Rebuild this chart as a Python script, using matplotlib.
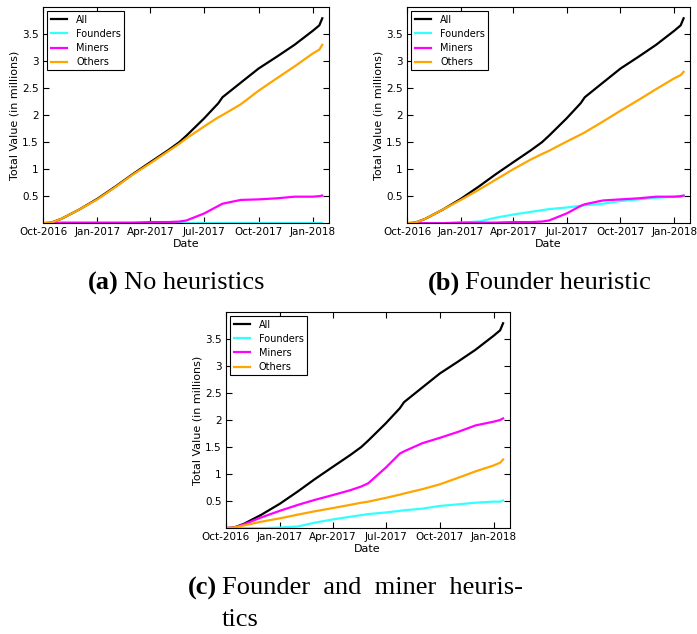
import datetime as dt
import matplotlib
matplotlib.use("Agg")
import matplotlib.pyplot as plt
import matplotlib.dates as mdates

# shared dates (approx. sampling)
dates = ["2016-10-01", "2016-10-15", "2016-11-01", "2016-12-01", "2017-01-01",
         "2017-02-01", "2017-03-01", "2017-04-01", "2017-05-01", "2017-05-20",
         "2017-06-01", "2017-07-01", "2017-07-25", "2017-08-01", "2017-09-01",
         "2017-10-01", "2017-11-01", "2017-12-01", "2018-01-01", "2018-01-12",
         "2018-01-17"]

all_vals = [0.0, 0.01, 0.08, 0.25, 0.45, 0.68, 0.90, 1.13, 1.35, 1.50, 1.62,
            1.94, 2.22, 2.33, 2.60, 2.86, 3.08, 3.30, 3.56, 3.66, 3.79]

# (a) No heuristics
a_founders = [0.0] * 21
a_miners = [0.0, 0.0, 0.01, 0.01, 0.01, 0.01, 0.01, 0.02, 0.02, 0.03, 0.05,
            0.18, 0.32, 0.36, 0.43, 0.44, 0.46, 0.49, 0.49, 0.50, 0.51]
a_others = [0.0, 0.01, 0.08, 0.25, 0.44, 0.67, 0.89, 1.11, 1.33, 1.47, 1.57,
            1.79, 1.96, 2.00, 2.20, 2.45, 2.68, 2.90, 3.14, 3.21, 3.30]

# (b) Founder heuristic
b_founders = [0.0, 0.0, 0.0, 0.0, 0.01, 0.03, 0.10, 0.16, 0.21, 0.24, 0.26,
              0.29, 0.32, 0.33, 0.36, 0.41, 0.44, 0.47, 0.49, 0.49, 0.51]
b_miners = [0.0, 0.0, 0.0, 0.0, 0.01, 0.01, 0.01, 0.02, 0.02, 0.03, 0.05,
            0.18, 0.32, 0.35, 0.42, 0.44, 0.46, 0.49, 0.49, 0.50, 0.51]
b_others = [0.0, 0.01, 0.08, 0.25, 0.43, 0.62, 0.80, 1.00, 1.18, 1.28, 1.34,
            1.51, 1.64, 1.68, 1.88, 2.08, 2.28, 2.48, 2.68, 2.74, 2.80]

# (c) Founder and miner heuristics
c_founders = b_founders
c_miners = [0.0, 0.01, 0.07, 0.20, 0.32, 0.43, 0.52, 0.61, 0.70, 0.77, 0.83,
            1.12, 1.38, 1.42, 1.57, 1.67, 1.78, 1.90, 1.97, 2.00, 2.03]
c_others = [0.0, 0.01, 0.05, 0.12, 0.18, 0.25, 0.31, 0.37, 0.43, 0.47, 0.49,
            0.56, 0.62, 0.64, 0.72, 0.81, 0.93, 1.05, 1.16, 1.21, 1.27]

yticks = [0.5, 1, 1.5, 2, 2.5, 3, 3.5]
ytick_labels = ["0.5", "1", "1.5", "2", "2.5", "3", "3.5"]

x = [dt.datetime.strptime(d, "%Y-%m-%d") for d in dates]

plt.rcParams["font.family"] = ["DejaVu Sans"]

fig = plt.figure(figsize=(6.97, 6.34), dpi=100)


def panel(rect, founders, miners, others):
    ax = fig.add_axes(rect)
    ax.plot(x, all_vals, color="black", lw=1.6, label="All")
    ax.plot(x, founders, color="#33ffff", lw=1.6, label="Founders")
    ax.plot(x, miners, color="#ff00ff", lw=1.6, label="Miners")
    ax.plot(x, others, color="#ffa500", lw=1.6, label="Others")
    ax.set_xlim(dt.datetime(2016, 10, 1), dt.datetime(2018, 1, 28))
    ax.set_ylim(0, 4)
    ax.set_yticks(yticks)
    ax.set_yticklabels(ytick_labels)
    ax.xaxis.set_major_locator(mdates.MonthLocator(bymonth=[1, 4, 7, 10]))
    ax.xaxis.set_major_formatter(mdates.DateFormatter("%b-%Y"))
    ax.tick_params(direction="in", top=True, right=True, labelsize=7.5,
                   length=4, pad=3)
    ax.set_xlabel("Date", fontsize=8, labelpad=1)
    ax.set_ylabel("Total Value (in millions)", fontsize=8, labelpad=2)
    leg = ax.legend(loc="upper left", fontsize=7, fancybox=False,
                    edgecolor="black", framealpha=1, handlelength=1.7,
                    borderpad=0.35, labelspacing=0.42, handletextpad=0.9,
                    borderaxespad=0.45)
    leg.get_frame().set_linewidth(0.8)
    return ax


panel([0.0617, 0.648, 0.410, 0.341], a_founders, a_miners, a_others)
panel([0.584, 0.648, 0.406, 0.341], b_founders, b_miners, b_others)
panel([0.324, 0.167, 0.407, 0.341], c_founders, c_miners, c_others)

serif = ["Liberation Serif", "DejaVu Serif"]
fig.canvas.draw()
renderer = fig.canvas.get_renderer()


def caption(xpx, ypx, tag, rest):
    t = fig.text(xpx / 697, 1 - ypx / 634, tag, fontsize=19, family=serif,
                 weight="bold", va="center", ha="left")
    bb = t.get_window_extent(renderer)
    x2 = bb.x1 + 5
    fig.text(x2 / 697, 1 - ypx / 634, rest, fontsize=19, family=serif,
             va="center", ha="left")
    return x2


caption(88, 283, "(a)", "No heuristics")
caption(428, 283, "(b)", "Founder heuristic")
x2 = caption(188, 588, "(c)", "Founder  and  miner  heuris-")
fig.text(x2 / 697, 1 - 620 / 634, "tics", fontsize=19, family=serif,
         va="center", ha="left")

fig.savefig("out.png", dpi=100)
